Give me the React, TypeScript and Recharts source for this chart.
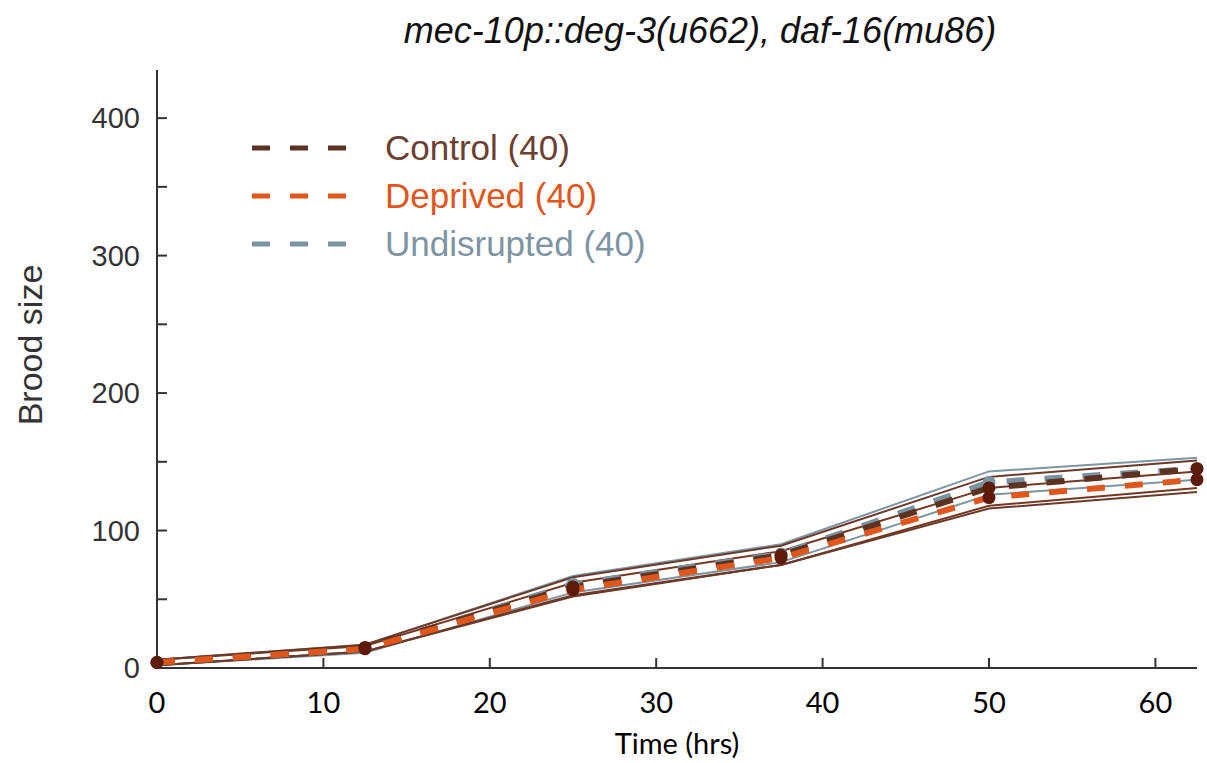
import { LineChart, Line, XAxis, YAxis, Legend } from "recharts";

// sampling times (hrs)
const hours = [0, 12.5, 25, 37.5, 50, 62.5];

// mean brood size with upper / lower bounds per condition
const controlMean = [4, 15, 59, 82, 131, 145];
const controlHigh = [6, 17, 66, 89, 139, 151];
const controlLow = [2, 12, 52, 75, 116, 128];

const deprivedMean = [4, 14, 57, 80, 124, 137];
const deprivedHigh = [6, 16, 62, 85, 131, 143];
const deprivedLow = [2, 12, 53, 75, 118, 131];

const undisruptedMean = [4, 14, 61, 83, 135, 145];
const undisruptedHigh = [6, 17, 67, 90, 143, 153];
const undisruptedLow = [2, 11, 55, 77, 126, 137];

const seriesNames = ["Control (40)", "Deprived (40)", "Undisrupted (40)"];

const xTicks = [0, 10, 20, 30, 40, 50, 60];
const yTicks = [0, 50, 100, 150, 200, 250, 300, 350, 400];

const rows = hours.map((h, i) => ({
  hours: h,
  controlMean: controlMean[i],
  controlHigh: controlHigh[i],
  controlLow: controlLow[i],
  deprivedMean: deprivedMean[i],
  deprivedHigh: deprivedHigh[i],
  deprivedLow: deprivedLow[i],
  undisruptedMean: undisruptedMean[i],
  undisruptedHigh: undisruptedHigh[i],
  undisruptedLow: undisruptedLow[i],
}));

const styles = {
  control: { line: "#5c3322", band: "#6b3a29", dot: "#5a1c0b", text: "#6b4030" },
  deprived: { line: "#e0561b", band: "#743822", dot: "#5e1a0a", text: "#e0561b" },
  undisrupted: { line: "#7a93a1", band: "#7d95a3", dot: "#7a93a1", text: "#7d95a2" },
};

const legendColors = [styles.control, styles.deprived, styles.undisrupted];

const DASH = "18 20";

function LegendBox() {
  return (
    <div>
      {seriesNames.map((name, i) => (
        <div
          key={name}
          style={{ display: "flex", alignItems: "center", height: 48 }}
        >
          <svg width={100} height={10} style={{ marginRight: 33 }}>
            <line
              x1={0}
              y1={5}
              x2={100}
              y2={5}
              stroke={legendColors[i].line}
              strokeWidth={5}
              strokeDasharray={DASH}
            />
          </svg>
          <span
            style={{
              color: legendColors[i].text,
              fontFamily: "'Liberation Sans', Arial, sans-serif",
              fontSize: 35,
            }}
          >
            {name}
          </span>
        </div>
      ))}
    </div>
  );
}

export default function App() {
  const band = (key: string, color: string) => (
    <Line
      key={key}
      dataKey={key}
      stroke={color}
      strokeWidth={2}
      dot={false}
      legendType="none"
      isAnimationActive={false}
    />
  );

  const mean = (key: string, color: string, dot: string) => (
    <Line
      key={key}
      dataKey={key}
      stroke={color}
      strokeWidth={6}
      strokeDasharray={DASH}
      dot={{ r: 6.5, fill: dot, stroke: "none" }}
      isAnimationActive={false}
    />
  );

  return (
    <div style={{ position: "absolute", left: 0, top: 0, width: 1207, height: 763, background: "#fff" }}>
      <div
        style={{
          position: "absolute",
          left: 700,
          top: 10,
          transform: "translateX(-50%)",
          whiteSpace: "nowrap",
          fontFamily: "'Liberation Sans', Arial, sans-serif",
          fontStyle: "italic",
          fontSize: 36,
          color: "#111",
        }}
      >
        mec-10p::deg-3(u662), daf-16(mu86)
      </div>
      <div
        style={{
          position: "absolute",
          left: 30,
          top: 345,
          transform: "translate(-50%, -50%) rotate(-90deg)",
          whiteSpace: "nowrap",
          fontFamily: "'Liberation Sans', Arial, sans-serif",
          fontSize: 34,
          color: "#333",
        }}
      >
        Brood size
      </div>
      <LineChart
        width={1207}
        height={763}
        data={rows}
        margin={{ top: 70, right: 10, bottom: 0, left: 0 }}
      >
        <XAxis
          dataKey="hours"
          type="number"
          domain={[0, 62.5]}
          ticks={xTicks}
          interval={0}
          height={95}
          tickSize={-10}
          tickMargin={34}
          stroke="#333"
          strokeWidth={2}
          tick={{ fill: "#000", fontFamily: "Lato, sans-serif", fontSize: 29 }}
          label={{
            value: "Time (hrs)",
            position: "insideBottom",
            offset: 9,
            fill: "#000",
            fontFamily: "Lato, sans-serif",
            fontSize: 29,
          }}
        />
        <YAxis
          type="number"
          domain={[0, 435]}
          ticks={yTicks}
          interval={0}
          width={157}
          tickSize={-10}
          tickMargin={27}
          stroke="#333"
          strokeWidth={2}
          tickFormatter={(v: number) => (v % 100 === 0 ? String(v) : "")}
          tick={{ fill: "#333", fontFamily: "'Liberation Sans', Arial, sans-serif", fontSize: 29 }}
        />
        <Legend
          layout="vertical"
          align="center"
          verticalAlign="middle"
          wrapperStyle={{ left: 252, top: 124, width: "auto" }}
          content={() => <LegendBox />}
        />
        {band("undisruptedHigh", styles.undisrupted.band)}
        {band("undisruptedLow", styles.undisrupted.band)}
        {band("deprivedHigh", styles.deprived.band)}
        {band("deprivedLow", styles.deprived.band)}
        {band("controlHigh", styles.control.band)}
        {band("controlLow", styles.control.band)}
        {mean("undisruptedMean", styles.undisrupted.line, styles.undisrupted.dot)}
        {mean("controlMean", styles.control.line, styles.control.dot)}
        {mean("deprivedMean", styles.deprived.line, styles.deprived.dot)}
      </LineChart>
    </div>
  );
}
